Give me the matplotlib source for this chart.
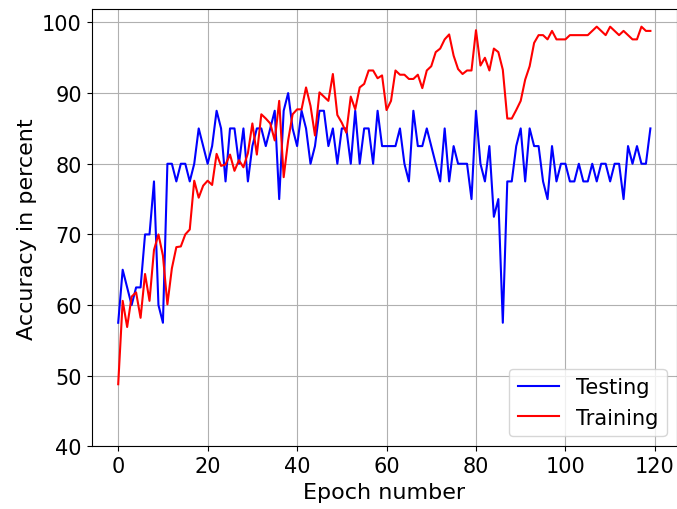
import matplotlib
matplotlib.use("Agg")
import matplotlib.pyplot as plt

epochs = list(range(120))

testing = [
    57.5, 65, 62.5, 60, 62.5, 62.5, 70, 70, 77.5, 60,
    57.5, 80, 80, 77.5, 80, 80, 77.5, 80, 85, 82.5,
    80, 82.5, 87.5, 85, 77.5, 85, 85, 80, 85, 77.5,
    82.5, 85, 85, 82.5, 85, 87.5, 75, 87.5, 90, 85,
    82.5, 87.5, 85, 80, 82.5, 87.5, 87.5, 82.5, 85, 80,
    85, 85, 80, 87.5, 80, 85, 85, 80, 87.5, 82.5,
    82.5, 82.5, 82.5, 85, 80, 77.5, 87.5, 82.5, 82.5, 85,
    82.5, 80, 77.5, 85, 77.5, 82.5, 80, 80, 80, 75,
    87.5, 80, 77.5, 82.5, 72.5, 75, 57.5, 77.5, 77.5, 82.5,
    85, 77.5, 85, 82.5, 82.5, 77.5, 75, 82.5, 77.5, 80,
    80, 77.5, 77.5, 80, 77.5, 77.5, 80, 77.5, 80, 80,
    77.5, 80, 80, 75, 82.5, 80, 82.5, 80, 80, 85,
]

training = [
    48.8, 60.6, 56.9, 61.2, 61.8, 58.2, 64.4, 60.6, 67.8, 70.0,
    67.0, 60.1, 65.2, 68.2, 68.3, 70.0, 70.7, 77.6, 75.2, 76.9,
    77.6, 77.0, 81.4, 79.7, 79.9, 81.3, 79.0, 80.5, 79.5, 81.5,
    85.7, 81.3, 87.0, 86.4, 85.7, 83.3, 88.9, 78.1, 83.3, 87.0,
    87.7, 87.7, 90.8, 88.2, 84.0, 90.1, 89.5, 88.9, 92.7, 86.9,
    85.8, 84.4, 89.5, 87.7, 90.8, 91.3, 93.2, 93.2, 92.1, 92.5,
    87.6, 88.9, 93.2, 92.6, 92.6, 92.0, 92.0, 92.6, 90.7, 93.2,
    93.8, 95.8, 96.3, 97.6, 98.3, 95.3, 93.4, 92.7, 93.2, 93.2,
    98.9, 93.9, 95.0, 93.2, 96.3, 95.8, 93.3, 86.4, 86.4, 87.6,
    88.9, 91.9, 93.8, 97.1, 98.2, 98.2, 97.6, 98.8, 97.6, 97.6,
    97.6, 98.2, 98.2, 98.2, 98.2, 98.2, 98.8, 99.4, 98.8, 98.2,
    99.4, 98.8, 98.2, 98.8, 98.2, 97.6, 97.6, 99.4, 98.8, 98.8,
]

fig = plt.figure(figsize=(6.77, 5.10), dpi=100)
ax = fig.add_axes([0.1353, 0.1227, 0.8647, 0.8577])

ax.plot(epochs, testing, color="blue", linewidth=1.5, label="Testing")
ax.plot(epochs, training, color="red", linewidth=1.5, label="Training")

ax.set_xlim(-5.95, 124.95)
ax.set_ylim(40, 101.9)
ax.set_xticks([0, 20, 40, 60, 80, 100, 120])
ax.set_yticks([40, 50, 60, 70, 80, 90, 100])
ax.tick_params(labelsize=15)
ax.grid(True)
ax.set_xlabel("Epoch number", fontsize=16)
ax.set_ylabel("Accuracy in percent", fontsize=16)
ax.legend(loc="lower right", fontsize=15)

fig.savefig("out.png", dpi=100)
